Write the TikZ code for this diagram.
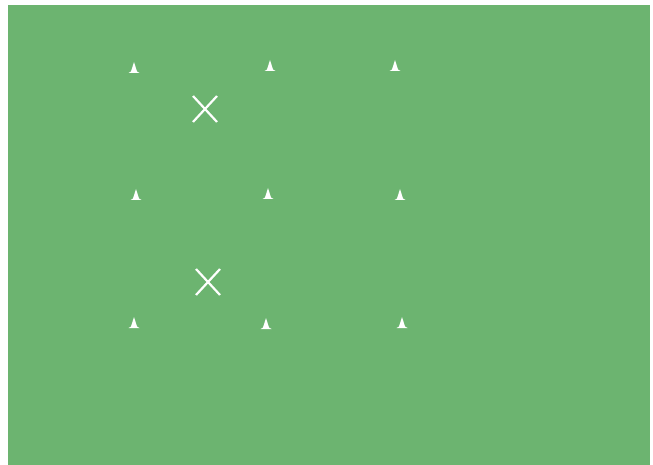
\documentclass[tikz,border=0pt]{standalone}
\usetikzlibrary{calc}
\definecolor{field}{RGB}{108,180,112}
\begin{document}
\begin{tikzpicture}[x=1pt,y=-1pt,
  cone/.style={fill=white,draw=none},
  xmark/.style={draw=white,line width=2.2pt}]
\useasboundingbox (0,0) rectangle (653,465);
\fill[white] (0,0) rectangle (653,465);
\fill[field] (8,5) rectangle (650,465);
% cones
\foreach \n/\x/\y in {c1/134/68,c2/270/66,c3/395/66,c4/136/195,c5/268/194,c6/400/195,c7/134/323,c8/266/324,c9/402/323}{
  \coordinate (\n) at (\x,\y);
  \fill[cone] ($(\n)+(-5.5,5)$) -- ($(\n)+(-3,3.5)$) -- ($(\n)+(0,-6)$) -- ($(\n)+(3,3.5)$) -- ($(\n)+(5.5,5)$) -- cycle;
}
% X marks
\foreach \n/\x/\y in {x1/205/109,x2/208/282}{
  \coordinate (\n) at (\x,\y);
  \draw[xmark] ($(\n)+(-12,-13)$) -- ($(\n)+(12,13)$);
  \draw[xmark] ($(\n)+(-12,13)$) -- ($(\n)+(12,-13)$);
}
\end{tikzpicture}
\end{document}
